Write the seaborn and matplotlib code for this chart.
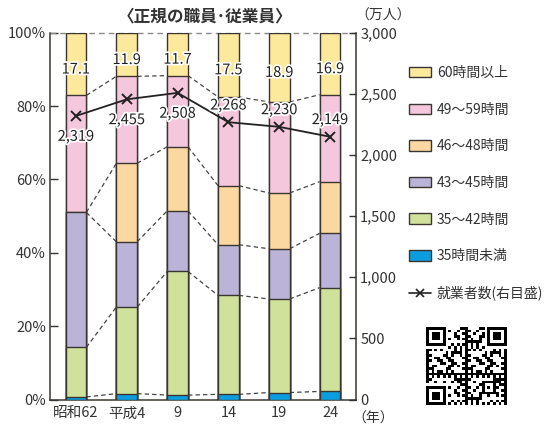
import numpy as np
import pandas as pd
import matplotlib
matplotlib.use("Agg")
import matplotlib.pyplot as plt
import matplotlib.patheffects as pe
from matplotlib.patches import Patch
from matplotlib.lines import Line2D
import seaborn as sns

# ---------------- data ----------------
years = ["昭和62", "平成4", "9", "14", "19", "24"]
under35 = [0.7, 1.6, 1.2, 1.4, 1.9, 2.2]          # 35時間未満
h35_42 = [13.5, 23.6, 33.7, 27.0, 25.5, 28.3]     # 35～42時間
h43_45 = [36.8, 17.8, 16.5, 13.8, 13.7, 14.8]     # 43～45時間
h46_48 = [0.0, 21.4, 17.5, 16.1, 15.2, 14.1]      # 46～48時間
h49_59 = [31.9, 23.7, 19.4, 24.2, 24.8, 23.7]     # 49～59時間
h60 = [17.1, 11.9, 11.7, 17.5, 18.9, 16.9]        # 60時間以上
workers = [2319, 2455, 2508, 2268, 2230, 2149]    # 就業者数（万人）

series_names = ["35時間未満", "35～42時間", "43～45時間", "46～48時間", "49～59時間", "60時間以上"]
series_vals = [under35, h35_42, h43_45, h46_48, h49_59, h60]
colors = ["#0a9ee0", "#d0e19b", "#bbb3d8", "#fbd7a1", "#f5c7dc", "#fde99b"]

# ---------------- style ----------------
sns.set_theme(style="white")
plt.rcParams["font.family"] = ["Noto Sans CJK JP", "DejaVu Sans"]
TXT = "#333333"
EDGE = "#3a3530"
LINE = "#222222"

W, H = 557, 428
fig = plt.figure(figsize=(W / 100, H / 100), dpi=100)
ax = fig.add_axes([50 / W, 1 - 399.5 / H, 306 / W, (399.5 - 32.7) / H])

df = pd.DataFrame({"year": years})
cum = np.cumsum(np.array(series_vals), axis=0)  # rows: boundaries
bar_w = 0.41

# draw from the top series down so each cumulative bar covers the previous
for k in range(len(series_names) - 1, -1, -1):
    df["cum"] = cum[k]
    sns.barplot(data=df, x="year", y="cum", order=years, color=colors[k],
                width=bar_w, saturation=1, edgecolor=EDGE, linewidth=1.0,
                errorbar=None, ax=ax, zorder=3)

# dashed connectors between adjacent bars
for k in range(len(series_names) - 1):
    for i in range(len(years) - 1):
        ax.plot([i + bar_w / 2, i + 1 - bar_w / 2], [cum[k][i], cum[k][i + 1]],
                ls=(0, (3.5, 2.5)), color="#444444", lw=0.9, zorder=2)

ax.set_xlim(-0.51, len(years) - 1 + 0.51)
ax.set_ylim(0, 100)
ax.set_xlabel("")
ax.set_ylabel("")
ax.set_yticks(range(0, 101, 20))
ax.set_yticklabels([f"{v}%" for v in range(0, 101, 20)])
ax.tick_params(axis="y", direction="in", length=6, width=1, color=TXT,
               labelsize=10.5, labelcolor=TXT, pad=3)
ax.tick_params(axis="x", which="major", length=0, labelsize=10.5,
               labelcolor=TXT, pad=5)
ax.set_xticks(np.arange(len(years) - 1) + 0.5, minor=True)
ax.tick_params(axis="x", which="minor", direction="in", length=4, width=1, color=TXT)
for s in ["left", "bottom", "right"]:
    ax.spines[s].set_color(EDGE)
    ax.spines[s].set_linewidth(1.1)
ax.spines["top"].set_visible(False)
ax.axhline(100, color="#8a8a8a", lw=1.0, ls=(0, (4, 3)), zorder=1, clip_on=False)

# 60h labels
halo = [pe.withStroke(linewidth=2.5, foreground="white")]
for i, v in enumerate(h60):
    ax.text(i, 100 - v / 2 - 1.5, f"{v:.1f}", ha="center", va="center",
            fontsize=10.5, color=LINE, path_effects=halo, zorder=6)

# workers line on right axis
ax2 = ax.twinx()
sns.lineplot(x=np.arange(len(years)), y=workers, ax=ax2, color=LINE,
             marker="x", markersize=7, markeredgewidth=1.4,
             markeredgecolor=LINE, markerfacecolor=LINE, lw=1.3, zorder=5)
ax2.set_ylim(0, 3000)
ax2.set_xlim(-0.51, len(years) - 1 + 0.51)
ax2.set_yticks(range(0, 3001, 500))
ax2.set_yticklabels([f"{v:,}" for v in range(0, 3001, 500)])
ax2.tick_params(axis="y", direction="in", length=5, width=1, color=TXT,
                labelsize=10.5, labelcolor=TXT, pad=3)
for s in ax2.spines.values():
    s.set_visible(False)
ax2.set_ylabel("")
for i, v in enumerate(workers):
    dy = -15 if i < 3 else 12
    ax2.annotate(f"{v:,}", (i, v), xytext=(0, dy), textcoords="offset points",
                 ha="center", va="center", fontsize=10.5, color=LINE,
                 path_effects=halo, zorder=6)

# titles / units
fig.text(205 / W, 1 - 16 / H, "〈正規の職員･従業員〉", ha="center", va="center",
         fontsize=12, fontweight="bold", color=TXT)
fig.text(355 / W, 1 - 16 / H, "（万人）", ha="left", va="center", fontsize=10, color=TXT)
fig.text(352 / W, 1 - 419 / H, "（年）", ha="left", va="center", fontsize=10, color=TXT)

# legend
handles = [Patch(facecolor=colors[k], edgecolor=EDGE, linewidth=1.0)
           for k in range(len(series_names) - 1, -1, -1)]
labels = [series_names[k] for k in range(len(series_names) - 1, -1, -1)]
handles.append(Line2D([0], [0], color=LINE, marker="x", lw=1.2,
                      markersize=6, markeredgewidth=1.2))
labels.append("就業者数(右目盛)")
fig.legend(handles, labels, loc="upper left", bbox_to_anchor=(409 / W, 1 - 66 / H),
           frameon=False, fontsize=10, handlelength=1.6, handleheight=0.8,
           handletextpad=0.4, labelspacing=1.63, borderpad=0, borderaxespad=0,
           labelcolor=TXT)

# QR-like decoration
n = 29
qr = np.zeros((n, n))
ii, jj = np.meshgrid(np.arange(n), np.arange(n), indexing="ij")
qr[((ii * 7 + jj * 13 + ii * jj * 3 + (ii // 3) * (jj // 2)) % 7) < 3] = 1
def finder(r, c):
    qr[r:r + 7, c:c + 7] = 1
    qr[r + 1:r + 6, c + 1:c + 6] = 0
    qr[r + 2:r + 5, c + 2:c + 5] = 1
for r, c in [(0, 0), (0, n - 7), (n - 7, 0)]:
    qr[max(r - 1, 0):r + 8, max(c - 1, 0):c + 8] = 0
    finder(r, c)
qr[20:25, 20:25] = 1
qr[21:24, 21:24] = 0
qr[22, 22] = 1
qax = fig.add_axes([426 / W, 1 - 405 / H, 81 / W, 78 / H])
qax.imshow(qr, cmap="Greys", interpolation="nearest", aspect="auto")
qax.axis("off")

fig.savefig("out.png", dpi=100)
